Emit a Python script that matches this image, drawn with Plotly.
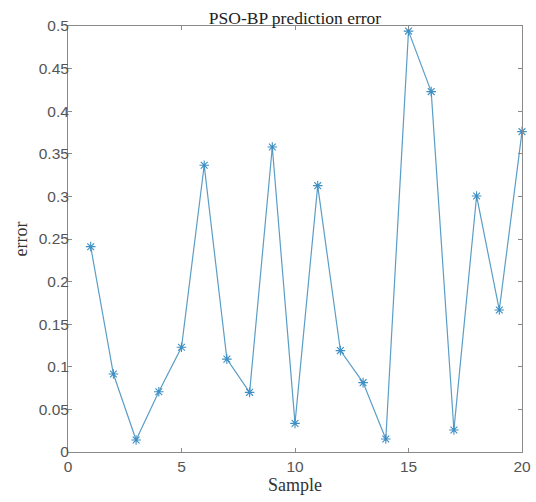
import plotly.graph_objects as go

samples = list(range(1, 21))
errors = [0.241, 0.0915, 0.014, 0.0708, 0.123, 0.3365, 0.109, 0.070, 0.358, 0.0336,
          0.3126, 0.119, 0.0814, 0.0153, 0.494, 0.423, 0.0258, 0.3005, 0.1667, 0.376]

title_text = "PSO-BP prediction error"
x_label = "Sample"
y_label = "error"

fig = go.Figure()
fig.add_trace(go.Scatter(
    x=samples, y=errors, mode="lines+markers",
    line=dict(color="#5a9ec6", width=1.2),
    marker=dict(symbol="asterisk-open", size=8, color="#3d8fc4",
                line=dict(color="#3d8fc4", width=1.1)),
    showlegend=False, cliponaxis=False,
))

axis_common = dict(
    showline=True, linecolor="#8a8a8a", linewidth=1, mirror="ticks",
    ticks="inside", ticklen=4, tickcolor="#8a8a8a", showgrid=False, zeroline=False,
    automargin=False,
    tickfont=dict(family="Liberation Sans, Arial", size=15.5, color="#555555"),
)

fig.update_layout(
    width=536, height=502,
    margin=dict(l=68, r=14, t=26, b=50),
    paper_bgcolor="white", plot_bgcolor="white",
    title=dict(text=title_text, x=0.5, xanchor="center", xref="paper",
               y=1, yref="paper", yanchor="bottom", pad=dict(b=2), automargin=False,
               font=dict(family="Liberation Serif, Times New Roman", size=17.5, color="#222222")),
    xaxis=dict(range=[0, 20], dtick=5, tick0=0,
               title=dict(text=x_label, standoff=0,
                          font=dict(family="Liberation Serif, Times New Roman", size=18, color="#333333")),
               **axis_common),
    yaxis=dict(range=[0, 0.5], dtick=0.05, tick0=0, ticklabelstandoff=-5,
               title=dict(text=y_label, standoff=6,
                          font=dict(family="Liberation Serif, Times New Roman", size=18, color="#333333")),
               **axis_common),
)

fig.write_html("out.html", config={"displayModeBar": False},
               post_script="document.body.style.margin='0';document.body.style.padding='0';")
